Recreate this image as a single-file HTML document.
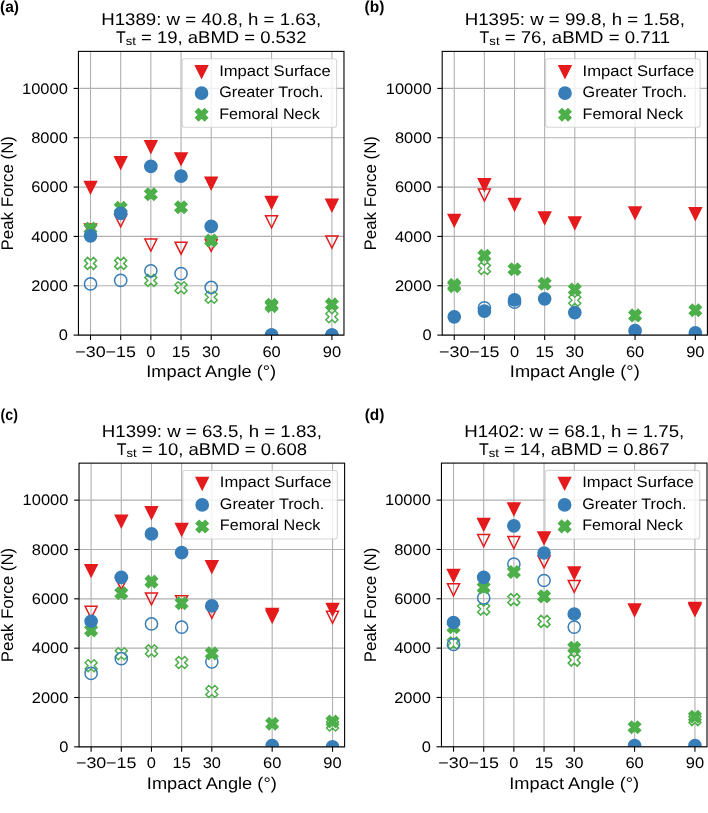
<!DOCTYPE html>
<html><head><meta charset="utf-8"><style>
html,body{margin:0;padding:0;background:#fff;}
svg{display:block;}
text{font-family:"Liberation Sans", sans-serif;text-rendering:geometricPrecision;}
</style></head><body>
<svg width="708" height="813" viewBox="0 0 708 813" font-family="Liberation Sans, sans-serif">
<rect width="708" height="813" fill="#fff"/>
<clipPath id="clipa"><rect x="78.45" y="51.39500000000004" width="265.52000000000004" height="283.705"/></clipPath>
<g stroke="#b0b0b0" stroke-width="1.1"><line x1="90.52" y1="51.39500000000004" x2="90.52" y2="335.1"/><line x1="120.69" y1="51.39500000000004" x2="120.69" y2="335.1"/><line x1="150.86" y1="51.39500000000004" x2="150.86" y2="335.1"/><line x1="181.04" y1="51.39500000000004" x2="181.04" y2="335.1"/><line x1="211.21" y1="51.39500000000004" x2="211.21" y2="335.1"/><line x1="271.56" y1="51.39500000000004" x2="271.56" y2="335.1"/><line x1="331.90" y1="51.39500000000004" x2="331.90" y2="335.1"/><line x1="78.45" y1="335.10" x2="343.97" y2="335.10"/><line x1="78.45" y1="285.76" x2="343.97" y2="285.76"/><line x1="78.45" y1="236.42" x2="343.97" y2="236.42"/><line x1="78.45" y1="187.08" x2="343.97" y2="187.08"/><line x1="78.45" y1="137.74" x2="343.97" y2="137.74"/><line x1="78.45" y1="88.40" x2="343.97" y2="88.40"/></g>
<rect x="182.17" y="58.70" width="154.5" height="68.6" rx="2.8" fill="#fff" fill-opacity="0.8" stroke="#cccccc" stroke-opacity="0.8" stroke-width="1.1"/>
<polygon points="195.57,65.70 207.57,65.70 201.57,77.70" fill="#e41a1c" stroke="#e41a1c" stroke-width="1.5" stroke-linejoin="miter"/>
<circle cx="201.57" cy="93.20" r="6.10" fill="#377eb8" stroke="#377eb8" stroke-width="1.5"/>
<polygon points="198.57,108.70 201.57,111.70 204.57,108.70 207.57,111.70 204.57,114.70 207.57,117.70 204.57,120.70 201.57,117.70 198.57,120.70 195.57,117.70 198.57,114.70 195.57,111.70" fill="#4daf4a" stroke="#4daf4a" stroke-width="1.5" stroke-linejoin="miter"/>
<g clip-path="url(#clipa)"><polygon points="84.52,224.01 96.52,224.01 90.52,236.01" fill="none" stroke="#e41a1c" stroke-width="1.5" stroke-linejoin="miter"/><polygon points="114.69,214.80 126.69,214.80 120.69,226.80" fill="none" stroke="#e41a1c" stroke-width="1.5" stroke-linejoin="miter"/><polygon points="144.86,239.01 156.86,239.01 150.86,251.01" fill="none" stroke="#e41a1c" stroke-width="1.5" stroke-linejoin="miter"/><polygon points="175.04,242.20 187.04,242.20 181.04,254.20" fill="none" stroke="#e41a1c" stroke-width="1.5" stroke-linejoin="miter"/><polygon points="205.21,239.41 217.21,239.41 211.21,251.41" fill="none" stroke="#e41a1c" stroke-width="1.5" stroke-linejoin="miter"/><polygon points="265.56,215.79 277.56,215.79 271.56,227.79" fill="none" stroke="#e41a1c" stroke-width="1.5" stroke-linejoin="miter"/><polygon points="325.90,236.09 337.90,236.09 331.90,248.09" fill="none" stroke="#e41a1c" stroke-width="1.5" stroke-linejoin="miter"/><polygon points="87.52,257.40 90.52,260.40 93.52,257.40 96.52,260.40 93.52,263.40 96.52,266.40 93.52,269.40 90.52,266.40 87.52,269.40 84.52,266.40 87.52,263.40 84.52,260.40" fill="none" stroke="#4daf4a" stroke-width="1.5" stroke-linejoin="miter"/><polygon points="117.69,257.40 120.69,260.40 123.69,257.40 126.69,260.40 123.69,263.40 126.69,266.40 123.69,269.40 120.69,266.40 117.69,269.40 114.69,266.40 117.69,263.40 114.69,260.40" fill="none" stroke="#4daf4a" stroke-width="1.5" stroke-linejoin="miter"/><polygon points="147.86,274.40 150.86,277.40 153.86,274.40 156.86,277.40 153.86,280.40 156.86,283.40 153.86,286.40 150.86,283.40 147.86,286.40 144.86,283.40 147.86,280.40 144.86,277.40" fill="none" stroke="#4daf4a" stroke-width="1.5" stroke-linejoin="miter"/><polygon points="178.04,281.80 181.04,284.80 184.04,281.80 187.04,284.80 184.04,287.80 187.04,290.80 184.04,293.80 181.04,290.80 178.04,293.80 175.04,290.80 178.04,287.80 175.04,284.80" fill="none" stroke="#4daf4a" stroke-width="1.5" stroke-linejoin="miter"/><polygon points="208.21,291.31 211.21,294.31 214.21,291.31 217.21,294.31 214.21,297.31 217.21,300.31 214.21,303.31 211.21,300.31 208.21,303.31 205.21,300.31 208.21,297.31 205.21,294.31" fill="none" stroke="#4daf4a" stroke-width="1.5" stroke-linejoin="miter"/><polygon points="268.56,300.09 271.56,303.09 274.56,300.09 277.56,303.09 274.56,306.09 277.56,309.09 274.56,312.09 271.56,309.09 268.56,312.09 265.56,309.09 268.56,306.09 265.56,303.09" fill="none" stroke="#4daf4a" stroke-width="1.5" stroke-linejoin="miter"/><polygon points="328.90,310.81 331.90,313.81 334.90,310.81 337.90,313.81 334.90,316.81 337.90,319.81 334.90,322.81 331.90,319.81 328.90,322.81 325.90,319.81 328.90,316.81 325.90,313.81" fill="none" stroke="#4daf4a" stroke-width="1.5" stroke-linejoin="miter"/><circle cx="90.52" cy="283.94" r="6.10" fill="none" stroke="#377eb8" stroke-width="1.5"/><circle cx="120.69" cy="280.40" r="6.10" fill="none" stroke="#377eb8" stroke-width="1.5"/><circle cx="150.86" cy="270.80" r="6.10" fill="none" stroke="#377eb8" stroke-width="1.5"/><circle cx="181.04" cy="273.60" r="6.10" fill="none" stroke="#377eb8" stroke-width="1.5"/><circle cx="211.21" cy="287.41" r="6.10" fill="none" stroke="#377eb8" stroke-width="1.5"/><circle cx="271.56" cy="335.10" r="6.10" fill="none" stroke="#377eb8" stroke-width="1.5"/><circle cx="331.90" cy="335.10" r="6.10" fill="none" stroke="#377eb8" stroke-width="1.5"/><polygon points="84.52,181.39 96.52,181.39 90.52,193.39" fill="#e41a1c" stroke="#e41a1c" stroke-width="1.5" stroke-linejoin="miter"/><polygon points="114.69,156.82 126.69,156.82 120.69,168.82" fill="#e41a1c" stroke="#e41a1c" stroke-width="1.5" stroke-linejoin="miter"/><polygon points="144.86,140.70 156.86,140.70 150.86,152.70" fill="#e41a1c" stroke="#e41a1c" stroke-width="1.5" stroke-linejoin="miter"/><polygon points="175.04,152.90 187.04,152.90 181.04,164.90" fill="#e41a1c" stroke="#e41a1c" stroke-width="1.5" stroke-linejoin="miter"/><polygon points="205.21,177.21 217.21,177.21 211.21,189.21" fill="#e41a1c" stroke="#e41a1c" stroke-width="1.5" stroke-linejoin="miter"/><polygon points="265.56,196.59 277.56,196.59 271.56,208.59" fill="#e41a1c" stroke="#e41a1c" stroke-width="1.5" stroke-linejoin="miter"/><polygon points="325.90,199.31 337.90,199.31 331.90,211.31" fill="#e41a1c" stroke="#e41a1c" stroke-width="1.5" stroke-linejoin="miter"/><polygon points="87.52,222.50 90.52,225.50 93.52,222.50 96.52,225.50 93.52,228.50 96.52,231.50 93.52,234.50 90.52,231.50 87.52,234.50 84.52,231.50 87.52,228.50 84.52,225.50" fill="#4daf4a" stroke="#4daf4a" stroke-width="1.5" stroke-linejoin="miter"/><polygon points="117.69,201.71 120.69,204.71 123.69,201.71 126.69,204.71 123.69,207.71 126.69,210.71 123.69,213.71 120.69,210.71 117.69,213.71 114.69,210.71 117.69,207.71 114.69,204.71" fill="#4daf4a" stroke="#4daf4a" stroke-width="1.5" stroke-linejoin="miter"/><polygon points="147.86,188.20 150.86,191.20 153.86,188.20 156.86,191.20 153.86,194.20 156.86,197.20 153.86,200.20 150.86,197.20 147.86,200.20 144.86,197.20 147.86,194.20 144.86,191.20" fill="#4daf4a" stroke="#4daf4a" stroke-width="1.5" stroke-linejoin="miter"/><polygon points="178.04,201.29 181.04,204.29 184.04,201.29 187.04,204.29 184.04,207.29 187.04,210.29 184.04,213.29 181.04,210.29 178.04,213.29 175.04,210.29 178.04,207.29 175.04,204.29" fill="#4daf4a" stroke="#4daf4a" stroke-width="1.5" stroke-linejoin="miter"/><polygon points="208.21,234.60 211.21,237.60 214.21,234.60 217.21,237.60 214.21,240.60 217.21,243.60 214.21,246.60 211.21,243.60 208.21,246.60 205.21,243.60 208.21,240.60 205.21,237.60" fill="#4daf4a" stroke="#4daf4a" stroke-width="1.5" stroke-linejoin="miter"/><polygon points="268.56,298.81 271.56,301.81 274.56,298.81 277.56,301.81 274.56,304.81 277.56,307.81 274.56,310.81 271.56,307.81 268.56,310.81 265.56,307.81 268.56,304.81 265.56,301.81" fill="#4daf4a" stroke="#4daf4a" stroke-width="1.5" stroke-linejoin="miter"/><polygon points="328.90,298.41 331.90,301.41 334.90,298.41 337.90,301.41 334.90,304.41 337.90,307.41 334.90,310.41 331.90,307.41 328.90,310.41 325.90,307.41 328.90,304.41 325.90,301.41" fill="#4daf4a" stroke="#4daf4a" stroke-width="1.5" stroke-linejoin="miter"/><circle cx="90.52" cy="235.80" r="6.10" fill="#377eb8" stroke="#377eb8" stroke-width="1.5"/><circle cx="120.69" cy="213.40" r="6.10" fill="#377eb8" stroke="#377eb8" stroke-width="1.5"/><circle cx="150.86" cy="166.40" r="6.10" fill="#377eb8" stroke="#377eb8" stroke-width="1.5"/><circle cx="181.04" cy="176.21" r="6.10" fill="#377eb8" stroke="#377eb8" stroke-width="1.5"/><circle cx="211.21" cy="226.40" r="6.10" fill="#377eb8" stroke="#377eb8" stroke-width="1.5"/><circle cx="271.56" cy="335.10" r="6.10" fill="#377eb8" stroke="#377eb8" stroke-width="1.5"/><circle cx="331.90" cy="335.10" r="6.10" fill="#377eb8" stroke="#377eb8" stroke-width="1.5"/></g>
<rect x="78.45" y="51.39500000000004" width="265.52000000000004" height="283.705" fill="none" stroke="#000" stroke-width="1.1"/>
<g stroke="#000" stroke-width="1.1"><line x1="90.52" y1="335.1" x2="90.52" y2="340.00"/><line x1="120.69" y1="335.1" x2="120.69" y2="340.00"/><line x1="150.86" y1="335.1" x2="150.86" y2="340.00"/><line x1="181.04" y1="335.1" x2="181.04" y2="340.00"/><line x1="211.21" y1="335.1" x2="211.21" y2="340.00"/><line x1="271.56" y1="335.1" x2="271.56" y2="340.00"/><line x1="331.90" y1="335.1" x2="331.90" y2="340.00"/><line x1="73.55" y1="335.10" x2="78.45" y2="335.10"/><line x1="73.55" y1="285.76" x2="78.45" y2="285.76"/><line x1="73.55" y1="236.42" x2="78.45" y2="236.42"/><line x1="73.55" y1="187.08" x2="78.45" y2="187.08"/><line x1="73.55" y1="137.74" x2="78.45" y2="137.74"/><line x1="73.55" y1="88.40" x2="78.45" y2="88.40"/></g>
<clipPath id="clipb"><rect x="442.2" y="51.39500000000004" width="265.2" height="283.705"/></clipPath>
<g stroke="#b0b0b0" stroke-width="1.1"><line x1="454.25" y1="51.39500000000004" x2="454.25" y2="335.1"/><line x1="484.39" y1="51.39500000000004" x2="484.39" y2="335.1"/><line x1="514.53" y1="51.39500000000004" x2="514.53" y2="335.1"/><line x1="544.66" y1="51.39500000000004" x2="544.66" y2="335.1"/><line x1="574.80" y1="51.39500000000004" x2="574.80" y2="335.1"/><line x1="635.07" y1="51.39500000000004" x2="635.07" y2="335.1"/><line x1="695.35" y1="51.39500000000004" x2="695.35" y2="335.1"/><line x1="442.2" y1="335.10" x2="707.4" y2="335.10"/><line x1="442.2" y1="285.76" x2="707.4" y2="285.76"/><line x1="442.2" y1="236.42" x2="707.4" y2="236.42"/><line x1="442.2" y1="187.08" x2="707.4" y2="187.08"/><line x1="442.2" y1="137.74" x2="707.4" y2="137.74"/><line x1="442.2" y1="88.40" x2="707.4" y2="88.40"/></g>
<rect x="545.60" y="58.70" width="154.5" height="68.6" rx="2.8" fill="#fff" fill-opacity="0.8" stroke="#cccccc" stroke-opacity="0.8" stroke-width="1.1"/>
<polygon points="559.00,65.70 571.00,65.70 565.00,77.70" fill="#e41a1c" stroke="#e41a1c" stroke-width="1.5" stroke-linejoin="miter"/>
<circle cx="565.00" cy="93.20" r="6.10" fill="#377eb8" stroke="#377eb8" stroke-width="1.5"/>
<polygon points="562.00,108.70 565.00,111.70 568.00,108.70 571.00,111.70 568.00,114.70 571.00,117.70 568.00,120.70 565.00,117.70 562.00,120.70 559.00,117.70 562.00,114.70 559.00,111.70" fill="#4daf4a" stroke="#4daf4a" stroke-width="1.5" stroke-linejoin="miter"/>
<g clip-path="url(#clipb)"><polygon points="478.39,188.99 490.39,188.99 484.39,200.99" fill="none" stroke="#e41a1c" stroke-width="1.5" stroke-linejoin="miter"/><polygon points="451.25,280.14 454.25,283.14 457.25,280.14 460.25,283.14 457.25,286.14 460.25,289.14 457.25,292.14 454.25,289.14 451.25,292.14 448.25,289.14 451.25,286.14 448.25,283.14" fill="none" stroke="#4daf4a" stroke-width="1.5" stroke-linejoin="miter"/><polygon points="481.39,262.50 484.39,265.50 487.39,262.50 490.39,265.50 487.39,268.50 490.39,271.50 487.39,274.50 484.39,271.50 481.39,274.50 478.39,271.50 481.39,268.50 478.39,265.50" fill="none" stroke="#4daf4a" stroke-width="1.5" stroke-linejoin="miter"/><polygon points="571.80,294.30 574.80,297.30 577.80,294.30 580.80,297.30 577.80,300.30 580.80,303.30 577.80,306.30 574.80,303.30 571.80,306.30 568.80,303.30 571.80,300.30 568.80,297.30" fill="none" stroke="#4daf4a" stroke-width="1.5" stroke-linejoin="miter"/><circle cx="484.39" cy="307.90" r="6.10" fill="none" stroke="#377eb8" stroke-width="1.5"/><circle cx="514.53" cy="302.18" r="6.10" fill="none" stroke="#377eb8" stroke-width="1.5"/><polygon points="448.25,214.41 460.25,214.41 454.25,226.41" fill="#e41a1c" stroke="#e41a1c" stroke-width="1.5" stroke-linejoin="miter"/><polygon points="478.39,178.79 490.39,178.79 484.39,190.79" fill="#e41a1c" stroke="#e41a1c" stroke-width="1.5" stroke-linejoin="miter"/><polygon points="508.53,198.49 520.53,198.49 514.53,210.49" fill="#e41a1c" stroke="#e41a1c" stroke-width="1.5" stroke-linejoin="miter"/><polygon points="538.66,212.11 550.66,212.11 544.66,224.11" fill="#e41a1c" stroke="#e41a1c" stroke-width="1.5" stroke-linejoin="miter"/><polygon points="568.80,217.01 580.80,217.01 574.80,229.01" fill="#e41a1c" stroke="#e41a1c" stroke-width="1.5" stroke-linejoin="miter"/><polygon points="629.07,206.91 641.07,206.91 635.07,218.91" fill="#e41a1c" stroke="#e41a1c" stroke-width="1.5" stroke-linejoin="miter"/><polygon points="689.35,207.70 701.35,207.70 695.35,219.70" fill="#e41a1c" stroke="#e41a1c" stroke-width="1.5" stroke-linejoin="miter"/><polygon points="451.25,278.91 454.25,281.91 457.25,278.91 460.25,281.91 457.25,284.91 460.25,287.91 457.25,290.91 454.25,287.91 451.25,290.91 448.25,287.91 451.25,284.91 448.25,281.91" fill="#4daf4a" stroke="#4daf4a" stroke-width="1.5" stroke-linejoin="miter"/><polygon points="481.39,249.80 484.39,252.80 487.39,249.80 490.39,252.80 487.39,255.80 490.39,258.80 487.39,261.80 484.39,258.80 481.39,261.80 478.39,258.80 481.39,255.80 478.39,252.80" fill="#4daf4a" stroke="#4daf4a" stroke-width="1.5" stroke-linejoin="miter"/><polygon points="511.53,263.19 514.53,266.19 517.53,263.19 520.53,266.19 517.53,269.19 520.53,272.19 517.53,275.19 514.53,272.19 511.53,275.19 508.53,272.19 511.53,269.19 508.53,266.19" fill="#4daf4a" stroke="#4daf4a" stroke-width="1.5" stroke-linejoin="miter"/><polygon points="541.66,277.79 544.66,280.79 547.66,277.79 550.66,280.79 547.66,283.79 550.66,286.79 547.66,289.79 544.66,286.79 541.66,289.79 538.66,286.79 541.66,283.79 538.66,280.79" fill="#4daf4a" stroke="#4daf4a" stroke-width="1.5" stroke-linejoin="miter"/><polygon points="571.80,283.46 574.80,286.46 577.80,283.46 580.80,286.46 577.80,289.46 580.80,292.46 577.80,295.46 574.80,292.46 571.80,295.46 568.80,292.46 571.80,289.46 568.80,286.46" fill="#4daf4a" stroke="#4daf4a" stroke-width="1.5" stroke-linejoin="miter"/><polygon points="632.07,309.40 635.07,312.40 638.07,309.40 641.07,312.40 638.07,315.40 641.07,318.40 638.07,321.40 635.07,318.40 632.07,321.40 629.07,318.40 632.07,315.40 629.07,312.40" fill="#4daf4a" stroke="#4daf4a" stroke-width="1.5" stroke-linejoin="miter"/><polygon points="692.35,304.20 695.35,307.20 698.35,304.20 701.35,307.20 698.35,310.20 701.35,313.20 698.35,316.20 695.35,313.20 692.35,316.20 689.35,313.20 692.35,310.20 689.35,307.20" fill="#4daf4a" stroke="#4daf4a" stroke-width="1.5" stroke-linejoin="miter"/><circle cx="454.25" cy="316.81" r="6.10" fill="#377eb8" stroke="#377eb8" stroke-width="1.5"/><circle cx="484.39" cy="311.07" r="6.10" fill="#377eb8" stroke="#377eb8" stroke-width="1.5"/><circle cx="514.53" cy="299.91" r="6.10" fill="#377eb8" stroke="#377eb8" stroke-width="1.5"/><circle cx="544.66" cy="298.79" r="6.10" fill="#377eb8" stroke="#377eb8" stroke-width="1.5"/><circle cx="574.80" cy="312.60" r="6.10" fill="#377eb8" stroke="#377eb8" stroke-width="1.5"/><circle cx="635.07" cy="330.69" r="6.10" fill="#377eb8" stroke="#377eb8" stroke-width="1.5"/><circle cx="695.35" cy="332.80" r="6.10" fill="#377eb8" stroke="#377eb8" stroke-width="1.5"/></g>
<rect x="442.2" y="51.39500000000004" width="265.2" height="283.705" fill="none" stroke="#000" stroke-width="1.1"/>
<g stroke="#000" stroke-width="1.1"><line x1="454.25" y1="335.1" x2="454.25" y2="340.00"/><line x1="484.39" y1="335.1" x2="484.39" y2="340.00"/><line x1="514.53" y1="335.1" x2="514.53" y2="340.00"/><line x1="544.66" y1="335.1" x2="544.66" y2="340.00"/><line x1="574.80" y1="335.1" x2="574.80" y2="340.00"/><line x1="635.07" y1="335.1" x2="635.07" y2="340.00"/><line x1="695.35" y1="335.1" x2="695.35" y2="340.00"/><line x1="437.30" y1="335.10" x2="442.2" y2="335.10"/><line x1="437.30" y1="285.76" x2="442.2" y2="285.76"/><line x1="437.30" y1="236.42" x2="442.2" y2="236.42"/><line x1="437.30" y1="187.08" x2="442.2" y2="187.08"/><line x1="437.30" y1="137.74" x2="442.2" y2="137.74"/><line x1="437.30" y1="88.40" x2="442.2" y2="88.40"/></g>
<clipPath id="clipc"><rect x="79.05" y="463.14500000000004" width="265.55" height="283.705"/></clipPath>
<g stroke="#b0b0b0" stroke-width="1.1"><line x1="91.12" y1="463.14500000000004" x2="91.12" y2="746.85"/><line x1="121.30" y1="463.14500000000004" x2="121.30" y2="746.85"/><line x1="151.47" y1="463.14500000000004" x2="151.47" y2="746.85"/><line x1="181.65" y1="463.14500000000004" x2="181.65" y2="746.85"/><line x1="211.82" y1="463.14500000000004" x2="211.82" y2="746.85"/><line x1="272.18" y1="463.14500000000004" x2="272.18" y2="746.85"/><line x1="332.53" y1="463.14500000000004" x2="332.53" y2="746.85"/><line x1="79.05" y1="746.85" x2="344.6" y2="746.85"/><line x1="79.05" y1="697.51" x2="344.6" y2="697.51"/><line x1="79.05" y1="648.17" x2="344.6" y2="648.17"/><line x1="79.05" y1="598.83" x2="344.6" y2="598.83"/><line x1="79.05" y1="549.49" x2="344.6" y2="549.49"/><line x1="79.05" y1="500.15" x2="344.6" y2="500.15"/></g>
<rect x="182.80" y="470.45" width="154.5" height="68.6" rx="2.8" fill="#fff" fill-opacity="0.8" stroke="#cccccc" stroke-opacity="0.8" stroke-width="1.1"/>
<polygon points="196.20,477.45 208.20,477.45 202.20,489.45" fill="#e41a1c" stroke="#e41a1c" stroke-width="1.5" stroke-linejoin="miter"/>
<circle cx="202.20" cy="504.95" r="6.10" fill="#377eb8" stroke="#377eb8" stroke-width="1.5"/>
<polygon points="199.20,520.45 202.20,523.45 205.20,520.45 208.20,523.45 205.20,526.45 208.20,529.45 205.20,532.45 202.20,529.45 199.20,532.45 196.20,529.45 199.20,526.45 196.20,523.45" fill="#4daf4a" stroke="#4daf4a" stroke-width="1.5" stroke-linejoin="miter"/>
<g clip-path="url(#clipc)"><polygon points="85.12,606.36 97.12,606.36 91.12,618.36" fill="none" stroke="#e41a1c" stroke-width="1.5" stroke-linejoin="miter"/><polygon points="115.30,577.65 127.30,577.65 121.30,589.65" fill="none" stroke="#e41a1c" stroke-width="1.5" stroke-linejoin="miter"/><polygon points="145.47,592.94 157.47,592.94 151.47,604.94" fill="none" stroke="#e41a1c" stroke-width="1.5" stroke-linejoin="miter"/><polygon points="175.65,595.74 187.65,595.74 181.65,607.74" fill="none" stroke="#e41a1c" stroke-width="1.5" stroke-linejoin="miter"/><polygon points="205.82,606.36 217.82,606.36 211.82,618.36" fill="none" stroke="#e41a1c" stroke-width="1.5" stroke-linejoin="miter"/><polygon points="266.18,610.49 278.18,610.49 272.18,622.49" fill="none" stroke="#e41a1c" stroke-width="1.5" stroke-linejoin="miter"/><polygon points="326.53,611.36 338.53,611.36 332.53,623.36" fill="none" stroke="#e41a1c" stroke-width="1.5" stroke-linejoin="miter"/><polygon points="88.12,659.74 91.12,662.74 94.12,659.74 97.12,662.74 94.12,665.74 97.12,668.74 94.12,671.74 91.12,668.74 88.12,671.74 85.12,668.74 88.12,665.74 85.12,662.74" fill="none" stroke="#4daf4a" stroke-width="1.5" stroke-linejoin="miter"/><polygon points="118.30,647.74 121.30,650.74 124.30,647.74 127.30,650.74 124.30,653.74 127.30,656.74 124.30,659.74 121.30,656.74 118.30,659.74 115.30,656.74 118.30,653.74 115.30,650.74" fill="none" stroke="#4daf4a" stroke-width="1.5" stroke-linejoin="miter"/><polygon points="148.47,644.84 151.47,647.84 154.47,644.84 157.47,647.84 154.47,650.84 157.47,653.84 154.47,656.84 151.47,653.84 148.47,656.84 145.47,653.84 148.47,650.84 145.47,647.84" fill="none" stroke="#4daf4a" stroke-width="1.5" stroke-linejoin="miter"/><polygon points="178.65,656.45 181.65,659.45 184.65,656.45 187.65,659.45 184.65,662.45 187.65,665.45 184.65,668.45 181.65,665.45 178.65,668.45 175.65,665.45 178.65,662.45 175.65,659.45" fill="none" stroke="#4daf4a" stroke-width="1.5" stroke-linejoin="miter"/><polygon points="208.82,685.46 211.82,688.46 214.82,685.46 217.82,688.46 214.82,691.46 217.82,694.46 214.82,697.46 211.82,694.46 208.82,697.46 205.82,694.46 208.82,691.46 205.82,688.46" fill="none" stroke="#4daf4a" stroke-width="1.5" stroke-linejoin="miter"/><polygon points="329.53,718.95 332.53,721.95 335.53,718.95 338.53,721.95 335.53,724.95 338.53,727.95 335.53,730.95 332.53,727.95 329.53,730.95 326.53,727.95 329.53,724.95 326.53,721.95" fill="none" stroke="#4daf4a" stroke-width="1.5" stroke-linejoin="miter"/><circle cx="91.12" cy="673.44" r="6.10" fill="none" stroke="#377eb8" stroke-width="1.5"/><circle cx="121.30" cy="658.64" r="6.10" fill="none" stroke="#377eb8" stroke-width="1.5"/><circle cx="151.47" cy="623.94" r="6.10" fill="none" stroke="#377eb8" stroke-width="1.5"/><circle cx="181.65" cy="627.16" r="6.10" fill="none" stroke="#377eb8" stroke-width="1.5"/><circle cx="211.82" cy="661.86" r="6.10" fill="none" stroke="#377eb8" stroke-width="1.5"/><polygon points="85.12,564.65 97.12,564.65 91.12,576.65" fill="#e41a1c" stroke="#e41a1c" stroke-width="1.5" stroke-linejoin="miter"/><polygon points="115.30,515.25 127.30,515.25 121.30,527.25" fill="#e41a1c" stroke="#e41a1c" stroke-width="1.5" stroke-linejoin="miter"/><polygon points="145.47,506.74 157.47,506.74 151.47,518.74" fill="#e41a1c" stroke="#e41a1c" stroke-width="1.5" stroke-linejoin="miter"/><polygon points="175.65,523.45 187.65,523.45 181.65,535.45" fill="#e41a1c" stroke="#e41a1c" stroke-width="1.5" stroke-linejoin="miter"/><polygon points="205.82,560.74 217.82,560.74 211.82,572.74" fill="#e41a1c" stroke="#e41a1c" stroke-width="1.5" stroke-linejoin="miter"/><polygon points="266.18,608.41 278.18,608.41 272.18,620.41" fill="#e41a1c" stroke="#e41a1c" stroke-width="1.5" stroke-linejoin="miter"/><polygon points="326.53,603.46 338.53,603.46 332.53,615.46" fill="#e41a1c" stroke="#e41a1c" stroke-width="1.5" stroke-linejoin="miter"/><polygon points="88.12,624.35 91.12,627.35 94.12,624.35 97.12,627.35 94.12,630.35 97.12,633.35 94.12,636.35 91.12,633.35 88.12,636.35 85.12,633.35 88.12,630.35 85.12,627.35" fill="#4daf4a" stroke="#4daf4a" stroke-width="1.5" stroke-linejoin="miter"/><polygon points="118.30,587.25 121.30,590.25 124.30,587.25 127.30,590.25 124.30,593.25 127.30,596.25 124.30,599.25 121.30,596.25 118.30,599.25 115.30,596.25 118.30,593.25 115.30,590.25" fill="#4daf4a" stroke="#4daf4a" stroke-width="1.5" stroke-linejoin="miter"/><polygon points="148.47,575.64 151.47,578.64 154.47,575.64 157.47,578.64 154.47,581.64 157.47,584.64 154.47,587.64 151.47,584.64 148.47,587.64 145.47,584.64 148.47,581.64 145.47,578.64" fill="#4daf4a" stroke="#4daf4a" stroke-width="1.5" stroke-linejoin="miter"/><polygon points="178.65,597.25 181.65,600.25 184.65,597.25 187.65,600.25 184.65,603.25 187.65,606.25 184.65,609.25 181.65,606.25 178.65,609.25 175.65,606.25 178.65,603.25 175.65,600.25" fill="#4daf4a" stroke="#4daf4a" stroke-width="1.5" stroke-linejoin="miter"/><polygon points="208.82,647.34 211.82,650.34 214.82,647.34 217.82,650.34 214.82,653.34 217.82,656.34 214.82,659.34 211.82,656.34 208.82,659.34 205.82,656.34 208.82,653.34 205.82,650.34" fill="#4daf4a" stroke="#4daf4a" stroke-width="1.5" stroke-linejoin="miter"/><polygon points="269.18,717.76 272.18,720.76 275.18,717.76 278.18,720.76 275.18,723.76 278.18,726.76 275.18,729.76 272.18,726.76 269.18,729.76 266.18,726.76 269.18,723.76 266.18,720.76" fill="#4daf4a" stroke="#4daf4a" stroke-width="1.5" stroke-linejoin="miter"/><polygon points="329.53,715.46 332.53,718.46 335.53,715.46 338.53,718.46 335.53,721.46 338.53,724.46 335.53,727.46 332.53,724.46 329.53,727.46 326.53,724.46 329.53,721.46 326.53,718.46" fill="#4daf4a" stroke="#4daf4a" stroke-width="1.5" stroke-linejoin="miter"/><circle cx="91.12" cy="621.24" r="6.10" fill="#377eb8" stroke="#377eb8" stroke-width="1.5"/><circle cx="121.30" cy="577.36" r="6.10" fill="#377eb8" stroke="#377eb8" stroke-width="1.5"/><circle cx="151.47" cy="533.95" r="6.10" fill="#377eb8" stroke="#377eb8" stroke-width="1.5"/><circle cx="181.65" cy="552.54" r="6.10" fill="#377eb8" stroke="#377eb8" stroke-width="1.5"/><circle cx="211.82" cy="605.95" r="6.10" fill="#377eb8" stroke="#377eb8" stroke-width="1.5"/><circle cx="272.18" cy="745.61" r="6.10" fill="#377eb8" stroke="#377eb8" stroke-width="1.5"/><circle cx="332.53" cy="746.85" r="6.10" fill="#377eb8" stroke="#377eb8" stroke-width="1.5"/></g>
<rect x="79.05" y="463.14500000000004" width="265.55" height="283.705" fill="none" stroke="#000" stroke-width="1.1"/>
<g stroke="#000" stroke-width="1.1"><line x1="91.12" y1="746.85" x2="91.12" y2="751.75"/><line x1="121.30" y1="746.85" x2="121.30" y2="751.75"/><line x1="151.47" y1="746.85" x2="151.47" y2="751.75"/><line x1="181.65" y1="746.85" x2="181.65" y2="751.75"/><line x1="211.82" y1="746.85" x2="211.82" y2="751.75"/><line x1="272.18" y1="746.85" x2="272.18" y2="751.75"/><line x1="332.53" y1="746.85" x2="332.53" y2="751.75"/><line x1="74.15" y1="746.85" x2="79.05" y2="746.85"/><line x1="74.15" y1="697.51" x2="79.05" y2="697.51"/><line x1="74.15" y1="648.17" x2="79.05" y2="648.17"/><line x1="74.15" y1="598.83" x2="79.05" y2="598.83"/><line x1="74.15" y1="549.49" x2="79.05" y2="549.49"/><line x1="74.15" y1="500.15" x2="79.05" y2="500.15"/></g>
<clipPath id="clipd"><rect x="441.45" y="463.09499999999997" width="265.55" height="283.705"/></clipPath>
<g stroke="#b0b0b0" stroke-width="1.1"><line x1="453.52" y1="463.09499999999997" x2="453.52" y2="746.8"/><line x1="483.70" y1="463.09499999999997" x2="483.70" y2="746.8"/><line x1="513.87" y1="463.09499999999997" x2="513.87" y2="746.8"/><line x1="544.05" y1="463.09499999999997" x2="544.05" y2="746.8"/><line x1="574.23" y1="463.09499999999997" x2="574.23" y2="746.8"/><line x1="634.58" y1="463.09499999999997" x2="634.58" y2="746.8"/><line x1="694.93" y1="463.09499999999997" x2="694.93" y2="746.8"/><line x1="441.45" y1="746.80" x2="707.0" y2="746.80"/><line x1="441.45" y1="697.46" x2="707.0" y2="697.46"/><line x1="441.45" y1="648.12" x2="707.0" y2="648.12"/><line x1="441.45" y1="598.78" x2="707.0" y2="598.78"/><line x1="441.45" y1="549.44" x2="707.0" y2="549.44"/><line x1="441.45" y1="500.10" x2="707.0" y2="500.10"/></g>
<rect x="545.20" y="470.39" width="154.5" height="68.6" rx="2.8" fill="#fff" fill-opacity="0.8" stroke="#cccccc" stroke-opacity="0.8" stroke-width="1.1"/>
<polygon points="558.60,477.39 570.60,477.39 564.60,489.39" fill="#e41a1c" stroke="#e41a1c" stroke-width="1.5" stroke-linejoin="miter"/>
<circle cx="564.60" cy="504.89" r="6.10" fill="#377eb8" stroke="#377eb8" stroke-width="1.5"/>
<polygon points="561.60,520.39 564.60,523.39 567.60,520.39 570.60,523.39 567.60,526.39 570.60,529.39 567.60,532.39 564.60,529.39 561.60,532.39 558.60,529.39 561.60,526.39 558.60,523.39" fill="#4daf4a" stroke="#4daf4a" stroke-width="1.5" stroke-linejoin="miter"/>
<g clip-path="url(#clipd)"><polygon points="447.52,583.81 459.52,583.81 453.52,595.81" fill="none" stroke="#e41a1c" stroke-width="1.5" stroke-linejoin="miter"/><polygon points="477.70,534.51 489.70,534.51 483.70,546.51" fill="none" stroke="#e41a1c" stroke-width="1.5" stroke-linejoin="miter"/><polygon points="507.87,536.61 519.87,536.61 513.87,548.61" fill="none" stroke="#e41a1c" stroke-width="1.5" stroke-linejoin="miter"/><polygon points="538.05,555.89 550.05,555.89 544.05,567.89" fill="none" stroke="#e41a1c" stroke-width="1.5" stroke-linejoin="miter"/><polygon points="568.23,580.40 580.23,580.40 574.23,592.40" fill="none" stroke="#e41a1c" stroke-width="1.5" stroke-linejoin="miter"/><polygon points="688.93,603.91 700.93,603.91 694.93,615.91" fill="none" stroke="#e41a1c" stroke-width="1.5" stroke-linejoin="miter"/><polygon points="450.52,636.95 453.52,639.95 456.52,636.95 459.52,639.95 456.52,642.95 459.52,645.95 456.52,648.95 453.52,645.95 450.52,648.95 447.52,645.95 450.52,642.95 447.52,639.95" fill="none" stroke="#4daf4a" stroke-width="1.5" stroke-linejoin="miter"/><polygon points="480.70,603.09 483.70,606.09 486.70,603.09 489.70,606.09 486.70,609.09 489.70,612.09 486.70,615.09 483.70,612.09 480.70,615.09 477.70,612.09 480.70,609.09 477.70,606.09" fill="none" stroke="#4daf4a" stroke-width="1.5" stroke-linejoin="miter"/><polygon points="510.87,593.61 513.87,596.61 516.87,593.61 519.87,596.61 516.87,599.61 519.87,602.61 516.87,605.61 513.87,602.61 510.87,605.61 507.87,602.61 510.87,599.61 507.87,596.61" fill="none" stroke="#4daf4a" stroke-width="1.5" stroke-linejoin="miter"/><polygon points="541.05,615.39 544.05,618.39 547.05,615.39 550.05,618.39 547.05,621.39 550.05,624.39 547.05,627.39 544.05,624.39 541.05,627.39 538.05,624.39 541.05,621.39 538.05,618.39" fill="none" stroke="#4daf4a" stroke-width="1.5" stroke-linejoin="miter"/><polygon points="571.23,654.10 574.23,657.10 577.23,654.10 580.23,657.10 577.23,660.10 580.23,663.10 577.23,666.10 574.23,663.10 571.23,666.10 568.23,663.10 571.23,660.10 568.23,657.10" fill="none" stroke="#4daf4a" stroke-width="1.5" stroke-linejoin="miter"/><polygon points="691.93,713.60 694.93,716.60 697.93,713.60 700.93,716.60 697.93,719.60 700.93,722.60 697.93,725.60 694.93,722.60 691.93,725.60 688.93,722.60 691.93,719.60 688.93,716.60" fill="none" stroke="#4daf4a" stroke-width="1.5" stroke-linejoin="miter"/><circle cx="453.52" cy="644.51" r="6.10" fill="none" stroke="#377eb8" stroke-width="1.5"/><circle cx="483.70" cy="597.90" r="6.10" fill="none" stroke="#377eb8" stroke-width="1.5"/><circle cx="513.87" cy="564.00" r="6.10" fill="none" stroke="#377eb8" stroke-width="1.5"/><circle cx="544.05" cy="580.50" r="6.10" fill="none" stroke="#377eb8" stroke-width="1.5"/><circle cx="574.23" cy="627.11" r="6.10" fill="none" stroke="#377eb8" stroke-width="1.5"/><polygon points="447.52,569.60 459.52,569.60 453.52,581.60" fill="#e41a1c" stroke="#e41a1c" stroke-width="1.5" stroke-linejoin="miter"/><polygon points="477.70,518.59 489.70,518.59 483.70,530.59" fill="#e41a1c" stroke="#e41a1c" stroke-width="1.5" stroke-linejoin="miter"/><polygon points="507.87,503.10 519.87,503.10 513.87,515.10" fill="#e41a1c" stroke="#e41a1c" stroke-width="1.5" stroke-linejoin="miter"/><polygon points="538.05,532.11 550.05,532.11 544.05,544.11" fill="#e41a1c" stroke="#e41a1c" stroke-width="1.5" stroke-linejoin="miter"/><polygon points="568.23,567.10 580.23,567.10 574.23,579.10" fill="#e41a1c" stroke="#e41a1c" stroke-width="1.5" stroke-linejoin="miter"/><polygon points="628.58,604.01 640.58,604.01 634.58,616.01" fill="#e41a1c" stroke="#e41a1c" stroke-width="1.5" stroke-linejoin="miter"/><polygon points="688.93,602.60 700.93,602.60 694.93,614.60" fill="#e41a1c" stroke="#e41a1c" stroke-width="1.5" stroke-linejoin="miter"/><polygon points="450.52,621.21 453.52,624.21 456.52,621.21 459.52,624.21 456.52,627.21 459.52,630.21 456.52,633.21 453.52,630.21 450.52,633.21 447.52,630.21 450.52,627.21 447.52,624.21" fill="#4daf4a" stroke="#4daf4a" stroke-width="1.5" stroke-linejoin="miter"/><polygon points="480.70,581.51 483.70,584.51 486.70,581.51 489.70,584.51 486.70,587.51 489.70,590.51 486.70,593.51 483.70,590.51 480.70,593.51 477.70,590.51 480.70,587.51 477.70,584.51" fill="#4daf4a" stroke="#4daf4a" stroke-width="1.5" stroke-linejoin="miter"/><polygon points="510.87,565.99 513.87,568.99 516.87,565.99 519.87,568.99 516.87,571.99 519.87,574.99 516.87,577.99 513.87,574.99 510.87,577.99 507.87,574.99 510.87,571.99 507.87,568.99" fill="#4daf4a" stroke="#4daf4a" stroke-width="1.5" stroke-linejoin="miter"/><polygon points="541.05,590.39 544.05,593.39 547.05,590.39 550.05,593.39 547.05,596.39 550.05,599.39 547.05,602.39 544.05,599.39 541.05,602.39 538.05,599.39 541.05,596.39 538.05,593.39" fill="#4daf4a" stroke="#4daf4a" stroke-width="1.5" stroke-linejoin="miter"/><polygon points="571.23,641.70 574.23,644.70 577.23,641.70 580.23,644.70 577.23,647.70 580.23,650.70 577.23,653.70 574.23,650.70 571.23,653.70 568.23,650.70 571.23,647.70 568.23,644.70" fill="#4daf4a" stroke="#4daf4a" stroke-width="1.5" stroke-linejoin="miter"/><polygon points="631.58,721.20 634.58,724.20 637.58,721.20 640.58,724.20 637.58,727.20 640.58,730.20 637.58,733.20 634.58,730.20 631.58,733.20 628.58,730.20 631.58,727.20 628.58,724.20" fill="#4daf4a" stroke="#4daf4a" stroke-width="1.5" stroke-linejoin="miter"/><polygon points="691.93,710.70 694.93,713.70 697.93,710.70 700.93,713.70 697.93,716.70 700.93,719.70 697.93,722.70 694.93,719.70 691.93,722.70 688.93,719.70 691.93,716.70 688.93,713.70" fill="#4daf4a" stroke="#4daf4a" stroke-width="1.5" stroke-linejoin="miter"/><circle cx="453.52" cy="622.51" r="6.10" fill="#377eb8" stroke="#377eb8" stroke-width="1.5"/><circle cx="483.70" cy="577.31" r="6.10" fill="#377eb8" stroke="#377eb8" stroke-width="1.5"/><circle cx="513.87" cy="525.81" r="6.10" fill="#377eb8" stroke="#377eb8" stroke-width="1.5"/><circle cx="544.05" cy="553.01" r="6.10" fill="#377eb8" stroke="#377eb8" stroke-width="1.5"/><circle cx="574.23" cy="613.99" r="6.10" fill="#377eb8" stroke="#377eb8" stroke-width="1.5"/><circle cx="634.58" cy="745.69" r="6.10" fill="#377eb8" stroke="#377eb8" stroke-width="1.5"/><circle cx="694.93" cy="745.69" r="6.10" fill="#377eb8" stroke="#377eb8" stroke-width="1.5"/></g>
<rect x="441.45" y="463.09499999999997" width="265.55" height="283.705" fill="none" stroke="#000" stroke-width="1.1"/>
<g stroke="#000" stroke-width="1.1"><line x1="453.52" y1="746.8" x2="453.52" y2="751.70"/><line x1="483.70" y1="746.8" x2="483.70" y2="751.70"/><line x1="513.87" y1="746.8" x2="513.87" y2="751.70"/><line x1="544.05" y1="746.8" x2="544.05" y2="751.70"/><line x1="574.23" y1="746.8" x2="574.23" y2="751.70"/><line x1="634.58" y1="746.8" x2="634.58" y2="751.70"/><line x1="694.93" y1="746.8" x2="694.93" y2="751.70"/><line x1="436.55" y1="746.80" x2="441.45" y2="746.80"/><line x1="436.55" y1="697.46" x2="441.45" y2="697.46"/><line x1="436.55" y1="648.12" x2="441.45" y2="648.12"/><line x1="436.55" y1="598.78" x2="441.45" y2="598.78"/><line x1="436.55" y1="549.44" x2="441.45" y2="549.44"/><line x1="436.55" y1="500.10" x2="441.45" y2="500.10"/></g>
<filter id="gs"><feOffset dx="0" dy="0"/></filter><g filter="url(#gs)"><text x="219.17" y="75.60" font-size="15.28" text-anchor="start" textLength="111.64" lengthAdjust="spacingAndGlyphs" fill="#000" >Impact Surface</text>
<text x="219.17" y="97.10" font-size="15.28" text-anchor="start" textLength="104.41" lengthAdjust="spacingAndGlyphs" fill="#000" >Greater Troch.</text>
<text x="219.17" y="118.60" font-size="15.28" text-anchor="start" textLength="100.57" lengthAdjust="spacingAndGlyphs" fill="#000" >Femoral Neck</text>
<text x="90.52" y="356.60" font-size="15.28" text-anchor="middle" textLength="30.39" lengthAdjust="spacingAndGlyphs" fill="#000" >−30</text>
<text x="120.69" y="356.60" font-size="15.28" text-anchor="middle" textLength="30.39" lengthAdjust="spacingAndGlyphs" fill="#000" >−15</text>
<text x="150.86" y="356.60" font-size="15.28" text-anchor="middle" textLength="9.16" lengthAdjust="spacingAndGlyphs" fill="#000" >0</text>
<text x="181.04" y="356.60" font-size="15.28" text-anchor="middle" textLength="18.32" lengthAdjust="spacingAndGlyphs" fill="#000" >15</text>
<text x="211.21" y="356.60" font-size="15.28" text-anchor="middle" textLength="18.32" lengthAdjust="spacingAndGlyphs" fill="#000" >30</text>
<text x="271.56" y="356.60" font-size="15.28" text-anchor="middle" textLength="18.32" lengthAdjust="spacingAndGlyphs" fill="#000" >60</text>
<text x="331.90" y="356.60" font-size="15.28" text-anchor="middle" textLength="18.32" lengthAdjust="spacingAndGlyphs" fill="#000" >90</text>
<text x="67.85" y="340.40" font-size="15.28" text-anchor="end" textLength="9.16" lengthAdjust="spacingAndGlyphs" fill="#000" >0</text>
<text x="67.85" y="291.06" font-size="15.28" text-anchor="end" textLength="36.65" lengthAdjust="spacingAndGlyphs" fill="#000" >2000</text>
<text x="67.85" y="241.72" font-size="15.28" text-anchor="end" textLength="36.65" lengthAdjust="spacingAndGlyphs" fill="#000" >4000</text>
<text x="67.85" y="192.38" font-size="15.28" text-anchor="end" textLength="36.65" lengthAdjust="spacingAndGlyphs" fill="#000" >6000</text>
<text x="67.85" y="143.04" font-size="15.28" text-anchor="end" textLength="36.65" lengthAdjust="spacingAndGlyphs" fill="#000" >8000</text>
<text x="67.85" y="93.70" font-size="15.28" text-anchor="end" textLength="45.81" lengthAdjust="spacingAndGlyphs" fill="#000" >10000</text>
<text x="211.21" y="377.30" font-size="16.77" text-anchor="middle" textLength="129.88" lengthAdjust="spacingAndGlyphs" fill="#000" >Impact Angle (°)</text>
<text x="0.00" y="0.00" font-size="16.77" text-anchor="middle" textLength="114.46" lengthAdjust="spacingAndGlyphs" fill="#000" transform="translate(12.55,193.25) rotate(-90)">Peak Force (N)</text>
<text x="211.21" y="24.90" font-size="16.98" text-anchor="middle" textLength="220.12" lengthAdjust="spacingAndGlyphs" fill="#000" >H1389: w = 40.8, h = 1.63,</text>
<text x="116.01" y="42.90" font-size="16.98" text-anchor="start" textLength="9.77" lengthAdjust="spacingAndGlyphs" fill="#000" >T</text>
<text x="125.78" y="45.10" font-size="11.88" text-anchor="start" textLength="10.23" lengthAdjust="spacingAndGlyphs" fill="#000" >st</text>
<text x="141.10" y="42.90" font-size="16.98" text-anchor="start" textLength="165.31" lengthAdjust="spacingAndGlyphs" fill="#000" >= 19, aBMD = 0.532</text>
<text x="0.00" y="11.70" font-size="15.92" text-anchor="start" textLength="19.02" lengthAdjust="spacingAndGlyphs" fill="#000" font-weight="bold">(a)</text>
<text x="582.60" y="75.60" font-size="15.28" text-anchor="start" textLength="111.64" lengthAdjust="spacingAndGlyphs" fill="#000" >Impact Surface</text>
<text x="582.60" y="97.10" font-size="15.28" text-anchor="start" textLength="104.41" lengthAdjust="spacingAndGlyphs" fill="#000" >Greater Troch.</text>
<text x="582.60" y="118.60" font-size="15.28" text-anchor="start" textLength="100.57" lengthAdjust="spacingAndGlyphs" fill="#000" >Femoral Neck</text>
<text x="454.25" y="356.60" font-size="15.28" text-anchor="middle" textLength="30.39" lengthAdjust="spacingAndGlyphs" fill="#000" >−30</text>
<text x="484.39" y="356.60" font-size="15.28" text-anchor="middle" textLength="30.39" lengthAdjust="spacingAndGlyphs" fill="#000" >−15</text>
<text x="514.53" y="356.60" font-size="15.28" text-anchor="middle" textLength="9.16" lengthAdjust="spacingAndGlyphs" fill="#000" >0</text>
<text x="544.66" y="356.60" font-size="15.28" text-anchor="middle" textLength="18.32" lengthAdjust="spacingAndGlyphs" fill="#000" >15</text>
<text x="574.80" y="356.60" font-size="15.28" text-anchor="middle" textLength="18.32" lengthAdjust="spacingAndGlyphs" fill="#000" >30</text>
<text x="635.07" y="356.60" font-size="15.28" text-anchor="middle" textLength="18.32" lengthAdjust="spacingAndGlyphs" fill="#000" >60</text>
<text x="695.35" y="356.60" font-size="15.28" text-anchor="middle" textLength="18.32" lengthAdjust="spacingAndGlyphs" fill="#000" >90</text>
<text x="431.60" y="340.40" font-size="15.28" text-anchor="end" textLength="9.16" lengthAdjust="spacingAndGlyphs" fill="#000" >0</text>
<text x="431.60" y="291.06" font-size="15.28" text-anchor="end" textLength="36.65" lengthAdjust="spacingAndGlyphs" fill="#000" >2000</text>
<text x="431.60" y="241.72" font-size="15.28" text-anchor="end" textLength="36.65" lengthAdjust="spacingAndGlyphs" fill="#000" >4000</text>
<text x="431.60" y="192.38" font-size="15.28" text-anchor="end" textLength="36.65" lengthAdjust="spacingAndGlyphs" fill="#000" >6000</text>
<text x="431.60" y="143.04" font-size="15.28" text-anchor="end" textLength="36.65" lengthAdjust="spacingAndGlyphs" fill="#000" >8000</text>
<text x="431.60" y="93.70" font-size="15.28" text-anchor="end" textLength="45.81" lengthAdjust="spacingAndGlyphs" fill="#000" >10000</text>
<text x="574.80" y="377.30" font-size="16.77" text-anchor="middle" textLength="129.88" lengthAdjust="spacingAndGlyphs" fill="#000" >Impact Angle (°)</text>
<text x="0.00" y="0.00" font-size="16.77" text-anchor="middle" textLength="114.46" lengthAdjust="spacingAndGlyphs" fill="#000" transform="translate(376.30,193.25) rotate(-90)">Peak Force (N)</text>
<text x="574.80" y="24.90" font-size="16.98" text-anchor="middle" textLength="220.12" lengthAdjust="spacingAndGlyphs" fill="#000" >H1395: w = 99.8, h = 1.58,</text>
<text x="479.60" y="42.90" font-size="16.98" text-anchor="start" textLength="9.77" lengthAdjust="spacingAndGlyphs" fill="#000" >T</text>
<text x="489.37" y="45.10" font-size="11.88" text-anchor="start" textLength="10.23" lengthAdjust="spacingAndGlyphs" fill="#000" >st</text>
<text x="504.69" y="42.90" font-size="16.98" text-anchor="start" textLength="165.31" lengthAdjust="spacingAndGlyphs" fill="#000" >= 76, aBMD = 0.711</text>
<text x="364.60" y="11.70" font-size="15.92" text-anchor="start" textLength="19.74" lengthAdjust="spacingAndGlyphs" fill="#000" font-weight="bold">(b)</text>
<text x="219.80" y="487.35" font-size="15.28" text-anchor="start" textLength="111.64" lengthAdjust="spacingAndGlyphs" fill="#000" >Impact Surface</text>
<text x="219.80" y="508.85" font-size="15.28" text-anchor="start" textLength="104.41" lengthAdjust="spacingAndGlyphs" fill="#000" >Greater Troch.</text>
<text x="219.80" y="530.35" font-size="15.28" text-anchor="start" textLength="100.57" lengthAdjust="spacingAndGlyphs" fill="#000" >Femoral Neck</text>
<text x="91.12" y="768.35" font-size="15.28" text-anchor="middle" textLength="30.39" lengthAdjust="spacingAndGlyphs" fill="#000" >−30</text>
<text x="121.30" y="768.35" font-size="15.28" text-anchor="middle" textLength="30.39" lengthAdjust="spacingAndGlyphs" fill="#000" >−15</text>
<text x="151.47" y="768.35" font-size="15.28" text-anchor="middle" textLength="9.16" lengthAdjust="spacingAndGlyphs" fill="#000" >0</text>
<text x="181.65" y="768.35" font-size="15.28" text-anchor="middle" textLength="18.32" lengthAdjust="spacingAndGlyphs" fill="#000" >15</text>
<text x="211.82" y="768.35" font-size="15.28" text-anchor="middle" textLength="18.32" lengthAdjust="spacingAndGlyphs" fill="#000" >30</text>
<text x="272.18" y="768.35" font-size="15.28" text-anchor="middle" textLength="18.32" lengthAdjust="spacingAndGlyphs" fill="#000" >60</text>
<text x="332.53" y="768.35" font-size="15.28" text-anchor="middle" textLength="18.32" lengthAdjust="spacingAndGlyphs" fill="#000" >90</text>
<text x="68.45" y="752.15" font-size="15.28" text-anchor="end" textLength="9.16" lengthAdjust="spacingAndGlyphs" fill="#000" >0</text>
<text x="68.45" y="702.81" font-size="15.28" text-anchor="end" textLength="36.65" lengthAdjust="spacingAndGlyphs" fill="#000" >2000</text>
<text x="68.45" y="653.47" font-size="15.28" text-anchor="end" textLength="36.65" lengthAdjust="spacingAndGlyphs" fill="#000" >4000</text>
<text x="68.45" y="604.13" font-size="15.28" text-anchor="end" textLength="36.65" lengthAdjust="spacingAndGlyphs" fill="#000" >6000</text>
<text x="68.45" y="554.79" font-size="15.28" text-anchor="end" textLength="36.65" lengthAdjust="spacingAndGlyphs" fill="#000" >8000</text>
<text x="68.45" y="505.45" font-size="15.28" text-anchor="end" textLength="45.81" lengthAdjust="spacingAndGlyphs" fill="#000" >10000</text>
<text x="211.83" y="789.05" font-size="16.77" text-anchor="middle" textLength="129.88" lengthAdjust="spacingAndGlyphs" fill="#000" >Impact Angle (°)</text>
<text x="0.00" y="0.00" font-size="16.77" text-anchor="middle" textLength="114.46" lengthAdjust="spacingAndGlyphs" fill="#000" transform="translate(13.15,605.00) rotate(-90)">Peak Force (N)</text>
<text x="211.83" y="436.65" font-size="16.98" text-anchor="middle" textLength="220.12" lengthAdjust="spacingAndGlyphs" fill="#000" >H1399: w = 63.5, h = 1.83,</text>
<text x="116.63" y="454.65" font-size="16.98" text-anchor="start" textLength="9.77" lengthAdjust="spacingAndGlyphs" fill="#000" >T</text>
<text x="126.40" y="456.85" font-size="11.88" text-anchor="start" textLength="10.23" lengthAdjust="spacingAndGlyphs" fill="#000" >st</text>
<text x="141.71" y="454.65" font-size="16.98" text-anchor="start" textLength="165.31" lengthAdjust="spacingAndGlyphs" fill="#000" >= 10, aBMD = 0.608</text>
<text x="0.60" y="419.60" font-size="15.92" text-anchor="start" textLength="17.36" lengthAdjust="spacingAndGlyphs" fill="#000" font-weight="bold">(c)</text>
<text x="582.20" y="487.29" font-size="15.28" text-anchor="start" textLength="111.64" lengthAdjust="spacingAndGlyphs" fill="#000" >Impact Surface</text>
<text x="582.20" y="508.79" font-size="15.28" text-anchor="start" textLength="104.41" lengthAdjust="spacingAndGlyphs" fill="#000" >Greater Troch.</text>
<text x="582.20" y="530.29" font-size="15.28" text-anchor="start" textLength="100.57" lengthAdjust="spacingAndGlyphs" fill="#000" >Femoral Neck</text>
<text x="453.52" y="768.30" font-size="15.28" text-anchor="middle" textLength="30.39" lengthAdjust="spacingAndGlyphs" fill="#000" >−30</text>
<text x="483.70" y="768.30" font-size="15.28" text-anchor="middle" textLength="30.39" lengthAdjust="spacingAndGlyphs" fill="#000" >−15</text>
<text x="513.87" y="768.30" font-size="15.28" text-anchor="middle" textLength="9.16" lengthAdjust="spacingAndGlyphs" fill="#000" >0</text>
<text x="544.05" y="768.30" font-size="15.28" text-anchor="middle" textLength="18.32" lengthAdjust="spacingAndGlyphs" fill="#000" >15</text>
<text x="574.23" y="768.30" font-size="15.28" text-anchor="middle" textLength="18.32" lengthAdjust="spacingAndGlyphs" fill="#000" >30</text>
<text x="634.58" y="768.30" font-size="15.28" text-anchor="middle" textLength="18.32" lengthAdjust="spacingAndGlyphs" fill="#000" >60</text>
<text x="694.93" y="768.30" font-size="15.28" text-anchor="middle" textLength="18.32" lengthAdjust="spacingAndGlyphs" fill="#000" >90</text>
<text x="430.85" y="752.10" font-size="15.28" text-anchor="end" textLength="9.16" lengthAdjust="spacingAndGlyphs" fill="#000" >0</text>
<text x="430.85" y="702.76" font-size="15.28" text-anchor="end" textLength="36.65" lengthAdjust="spacingAndGlyphs" fill="#000" >2000</text>
<text x="430.85" y="653.42" font-size="15.28" text-anchor="end" textLength="36.65" lengthAdjust="spacingAndGlyphs" fill="#000" >4000</text>
<text x="430.85" y="604.08" font-size="15.28" text-anchor="end" textLength="36.65" lengthAdjust="spacingAndGlyphs" fill="#000" >6000</text>
<text x="430.85" y="554.74" font-size="15.28" text-anchor="end" textLength="36.65" lengthAdjust="spacingAndGlyphs" fill="#000" >8000</text>
<text x="430.85" y="505.40" font-size="15.28" text-anchor="end" textLength="45.81" lengthAdjust="spacingAndGlyphs" fill="#000" >10000</text>
<text x="574.23" y="789.00" font-size="16.77" text-anchor="middle" textLength="129.88" lengthAdjust="spacingAndGlyphs" fill="#000" >Impact Angle (°)</text>
<text x="0.00" y="0.00" font-size="16.77" text-anchor="middle" textLength="114.46" lengthAdjust="spacingAndGlyphs" fill="#000" transform="translate(375.55,604.95) rotate(-90)">Peak Force (N)</text>
<text x="574.23" y="436.59" font-size="16.98" text-anchor="middle" textLength="220.12" lengthAdjust="spacingAndGlyphs" fill="#000" >H1402: w = 68.1, h = 1.75,</text>
<text x="479.03" y="454.59" font-size="16.98" text-anchor="start" textLength="9.77" lengthAdjust="spacingAndGlyphs" fill="#000" >T</text>
<text x="488.80" y="456.79" font-size="11.88" text-anchor="start" textLength="10.23" lengthAdjust="spacingAndGlyphs" fill="#000" >st</text>
<text x="504.11" y="454.59" font-size="16.98" text-anchor="start" textLength="165.31" lengthAdjust="spacingAndGlyphs" fill="#000" >= 14, aBMD = 0.867</text>
<text x="364.70" y="419.60" font-size="15.92" text-anchor="start" textLength="19.74" lengthAdjust="spacingAndGlyphs" fill="#000" font-weight="bold">(d)</text></g>
</svg>
</body></html>
